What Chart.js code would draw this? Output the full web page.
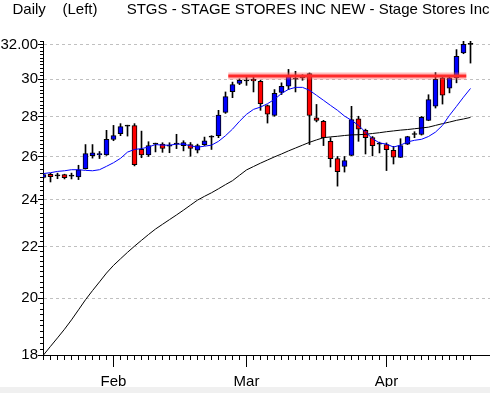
<!DOCTYPE html>
<html>
<head>
<meta charset="utf-8">
<script src="https://cdn.jsdelivr.net/npm/chart.js@4.4.1/dist/chart.umd.min.js"></script>
<style>
  html, body { margin: 0; padding: 0; background: #f0f0f0; }
  #chart { display: block; background: #fff; }
</style>
</head>
<body>
<canvas id="chart" width="490" height="387"></canvas>
<script>
// daily candles, index 0 = first trading day shown (late Jan)
const opens  = [25.01, 25.15, 25.08, 25.14, 25.07, 25.03, 25.42, 26.04, 26.08, 26.07,
                26.83, 27.12, 27.50, 27.53, 26.34, 26.07, 26.60, 26.60, 26.50, 26.60,
                26.53, 26.58, 26.30, 26.58, 26.95, 27.02, 28.21, 29.32, 29.76, 29.90,
                30.00, 29.88, 28.57, 28.06, 29.28, 29.62, 30.00, 30.07, 30.31, 27.93,
                27.75, 26.74, 25.90, 25.52, 26.05, 27.88, 27.29, 26.92, 26.60, 26.58,
                26.30, 25.96, 26.60, 27.08, 27.08, 27.80, 28.54, 30.07, 29.51, 30.07,
                31.49, 32.00];
const highs  = [25.18, 25.20, 25.21, 25.16, 25.21, 25.58, 26.58, 26.58, 26.24, 27.29,
                27.54, 27.63, 27.55, 27.63, 27.25, 26.72, 26.65, 26.67, 26.67, 27.09,
                26.77, 26.68, 26.60, 26.95, 27.02, 28.32, 29.30, 29.84, 30.02, 30.13,
                30.10, 29.94, 28.60, 29.43, 29.80, 30.55, 30.44, 30.25, 30.35, 28.63,
                27.80, 26.92, 26.00, 26.00, 28.53, 28.01, 27.35, 26.98, 26.70, 26.66,
                26.49, 26.87, 26.99, 27.22, 28.00, 29.15, 30.37, 30.10, 30.21, 31.69,
                32.20, 32.20];
const lows   = [24.98, 24.80, 24.95, 24.94, 24.94, 24.91, 25.40, 25.92, 25.90, 26.05,
                26.77, 27.02, 27.00, 25.55, 25.94, 26.00, 26.22, 26.20, 26.18, 26.38,
                26.27, 26.01, 26.17, 26.53, 26.34, 26.92, 28.16, 28.99, 29.70, 29.66,
                29.30, 28.32, 27.66, 28.01, 29.16, 29.43, 29.30, 29.94, 26.58, 27.72,
                26.53, 25.50, 24.61, 25.26, 26.04, 26.74, 26.12, 26.03, 26.17, 25.33,
                25.64, 25.95, 26.58, 26.92, 27.05, 27.78, 28.44, 28.65, 29.25, 29.80,
                31.45, 30.91];
const closes = [25.14, 25.04, 25.08, 25.00, 25.07, 25.37, 26.14, 26.18, 26.14, 26.84,
                27.02, 27.48, 27.50, 25.61, 26.08, 26.53, 26.60, 26.39, 26.50, 26.60,
                26.68, 26.39, 26.53, 26.77, 26.95, 28.07, 29.05, 29.70, 29.94, 29.90,
                29.90, 28.67, 28.12, 29.22, 29.61, 30.16, 30.00, 30.07, 28.05, 27.80,
                26.92, 25.90, 25.28, 25.80, 27.84, 27.35, 26.92, 26.53, 26.60, 26.33,
                25.97, 26.53, 26.97, 27.08, 27.95, 28.89, 30.00, 29.13, 30.07, 31.30,
                32.00, 32.00];

// moving averages (blue short, black long)
const maShort = [25.19, 25.23, 25.29, 25.32, 25.37, 25.37, 25.34, 25.32, 25.37, 25.53,
                 25.70, 25.91, 26.21, 26.34, 26.38, 26.46, 26.58, 26.55, 26.55, 26.60,
                 26.60, 26.52, 26.45, 26.50, 26.55, 26.74, 27.02, 27.35, 27.75, 28.11,
                 28.37, 28.49, 28.67, 28.90, 29.22, 29.44, 29.55, 29.55, 29.39, 29.12,
                 28.85, 28.58, 28.32, 28.02, 27.80, 27.54, 27.20, 26.87, 26.66, 26.60,
                 26.46, 26.55, 26.71, 26.79, 26.84, 26.98, 27.20, 27.54, 28.06, 28.53,
                 29.02, 29.49];
const maLong  = [18.00, 18.29, 18.58, 18.88, 19.21, 19.57, 19.94, 20.28, 20.61, 20.95,
                 21.25, 21.51, 21.77, 22.02, 22.26, 22.50, 22.73, 22.93, 23.13, 23.33,
                 23.54, 23.76, 23.98, 24.15, 24.31, 24.49, 24.68, 24.86, 25.11, 25.36,
                 25.52, 25.68, 25.83, 25.98, 26.12, 26.27, 26.41, 26.55, 26.69, 26.81,
                 26.92, 26.96, 26.99, 27.03, 27.06, 27.07, 27.09, 27.13, 27.17, 27.22,
                 27.26, 27.30, 27.33, 27.37, 27.41, 27.45, 27.54, 27.63, 27.71, 27.80,
                 27.87, 27.95];

// red resistance line
const levelX = [26.4, 60.4];
const levelY = 30.18;

const monthTicks = [10, 29, 49];
const monthLabels = ['Feb', 'Mar', 'Apr'];
const yTicks = [18, 20, 22, 24, 26, 28, 30, 32];

const font = { family: 'Liberation Sans', size: 15, weight: 'normal' };

const bodyColor = opens.map((o, i) =>
    closes[i] > o ? '#0000ff' : closes[i] < o ? '#ff0000' : '#000000');

// small ticks: one per trading day on x, every 0.2 on y
const minorTicks = {
    id: 'minorTicks',
    afterDraw(chart) {
        const { ctx, scales: { x, y } } = chart;
        ctx.save();
        ctx.strokeStyle = '#000';
        ctx.lineWidth = 1;
        ctx.beginPath();
        closes.forEach((c, i) => {
            const px = Math.round(x.getPixelForValue(i) - 0.5) + 0.5;
            ctx.moveTo(px, y.bottom);
            ctx.lineTo(px, y.bottom + 5);
        });
        for (let k = 0; k <= 71; k++) {
            const py = Math.round(y.getPixelForValue(18 + k * 0.2) - 0.5) + 0.5;
            ctx.moveTo(x.left - 3, py);
            ctx.lineTo(x.left, py);
        }
        ctx.stroke();
        ctx.restore();
    }
};

const line = (data, color, width) => ({
    type: 'line',
    data: data,
    borderColor: color,
    borderWidth: width,
    pointRadius: 0,
    fill: false,
    tension: 0
});

new Chart(document.getElementById('chart'), {
    type: 'bar',
    data: {
        datasets: [
            Object.assign(line(levelX.map(x => ({ x, y: levelY })), 'rgba(255,90,90,0.4)', 7), { order: 1 }),
            Object.assign(line(levelX.map(x => ({ x, y: levelY })), '#ff2a2a', 3), { order: 0 }),
            Object.assign(line(maShort.map((v, i) => ({ x: i, y: v })), '#0000ff', 1), { order: 2 }),
            Object.assign(line(maLong.map((v, i) => ({ x: i, y: v })), '#000000', 1), { order: 2 }),
            {
                order: 3,
                data: opens.map((o, i) => ({ x: i, y: [o, closes[i]] })),
                backgroundColor: bodyColor,
                borderColor: '#000',
                borderWidth: 1,
                borderSkipped: false,
                barThickness: 5,
                minBarLength: 1,
                grouped: false
            },
            {
                order: 4,
                data: lows.map((l, i) => ({ x: i, y: [l, highs[i]] })),
                backgroundColor: '#000',
                borderWidth: 0,
                barThickness: 1,
                grouped: false
            }
        ]
    },
    options: {
        responsive: false,
        animation: false,
        events: [],
        layout: { padding: 0 },
        plugins: {
            legend: { display: false },
            tooltip: { enabled: false },
            title: {
                display: true,
                align: 'start',
                text: '   Daily    (Left)       STGS - STAGE STORES INC NEW - Stage Stores Inc',
                color: '#000',
                font: font,
                padding: { top: 1, bottom: 22 }
            }
        },
        scales: {
            x: {
                type: 'linear',
                min: -1 / 14,
                max: -1 / 14 + 447 / 7,
                offset: false,
                afterFit: s => { s.height = 32; },
                afterBuildTicks: s => { s.ticks = monthTicks.map(v => ({ value: v })); },
                ticks: {
                    autoSkip: false,
                    maxRotation: 0,
                    padding: 6,
                    color: '#000',
                    font: font,
                    callback: v => monthLabels[monthTicks.indexOf(v)] || ''
                },
                grid: { drawOnChartArea: false, offset: false, tickLength: 12, tickColor: '#000' },
                border: { color: '#000' }
            },
            y: {
                type: 'logarithmic',
                min: 18,
                max: 32.2,
                afterFit: s => { s.width = 43; },
                afterBuildTicks: s => { s.ticks = yTicks.map(v => ({ value: v })); },
                ticks: {
                    padding: 0,
                    color: '#000',
                    font: font,
                    callback: v => v === 32 ? '32.00' : String(v)
                },
                grid: {
                    color: c => (c.tick && c.tick.value > 18) ? '#c0c0c0' : 'rgba(0,0,0,0)',
                    tickLength: 5,
                    tickColor: '#000'
                },
                border: { color: '#000', dash: [3, 3] }
            }
        }
    },
    plugins: [minorTicks]
});
</script>
</body>
</html>
